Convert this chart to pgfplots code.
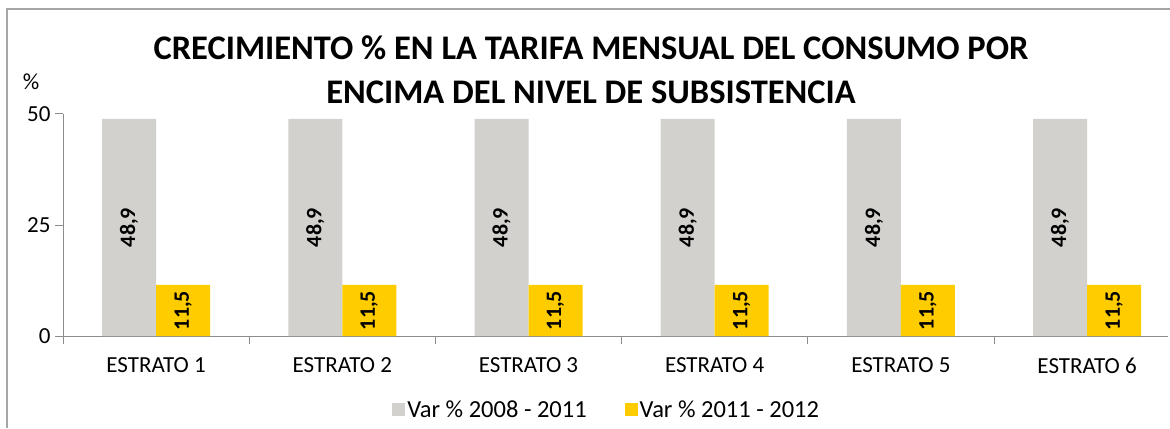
\documentclass[border=0pt]{standalone}
\usepackage{pgfplots}
\pgfplotsset{compat=1.18}
\usepackage{fontspec}
\setmainfont{Carlito}
\definecolor{barGray}{RGB}{210,209,205}
\definecolor{barYellow}{RGB}{255,204,0}
\definecolor{axGray}{RGB}{140,140,140}
\definecolor{frameGray}{RGB}{165,165,165}
\pgfplotstableread{
x y
0 48.9
1 48.9
2 48.9
3 48.9
4 48.9
5 48.9
}\gray
\pgfplotstableread{
x y
0 11.5
1 11.5
2 11.5
3 11.5
4 11.5
5 11.5
}\yellow
\begin{document}
\begin{tikzpicture}[x=1bp,y=1bp]
\path[use as bounding box] (0,0) rectangle (1170,428);
\draw[frameGray, line width=1.5bp] (7,0) -- (7,419) -- (1170,419);
\node[font=\fontsize{34.5bp}{44bp}\selectfont\bfseries, align=center] at (591,358) {CRECIMIENTO \% EN LA TARIFA MENSUAL DEL CONSUMO POR\\ENCIMA DEL NIVEL DE SUBSISTENCIA};
\node[font=\fontsize{23bp}{24bp}\selectfont] at (31,346) {\%};
\begin{axis}[
  at={(63bp,92bp)}, anchor=south west,
  x=186.2bp, y=4.44bp,
  xmin=-0.5, xmax=5.435, ymin=0, ymax=50,
  axis x line=bottom, axis y line=left,
  axis line style={-, draw=axGray, line width=1bp},
  ybar=0pt, bar width=54bp,
  ytick={0,25,50},
  xtick={0,1,2,3,4,5},
  xticklabels={ESTRATO 1,ESTRATO 2,ESTRATO 3,ESTRATO 4,ESTRATO 5,ESTRATO 6},
  minor xtick={-0.5,0.5,1.5,2.5,3.5,4.5},
  major x tick style={draw=none},
  tick style={draw=axGray, line width=1bp},
  tick align=outside,
  major tick length=8bp, minor tick length=8bp,
  /pgf/number format/assume math mode=true,
  yticklabel style={font=\fontsize{23bp}{24bp}\selectfont, xshift=-1bp},
  xticklabel style={font=\fontsize{23bp}{24bp}\selectfont, yshift=-10bp},
  nodes near coords={\pgfmathprintnumber[use comma,fixed,precision=1,fixed zerofill]{\pgfplotspointmeta}},
  visualization depends on=y \as \rawy,
  every node near coord/.append style={font=\fontsize{22bp}{24bp}\selectfont\bfseries, color=black, anchor=center, shift={(axis direction cs:0,-\rawy/2)}, rotate=90},
  legend style={draw=none, at={(axis description cs:0.492,-0.333)}, anchor=center, font=\fontsize{24.5bp}{26bp}\selectfont, legend columns=2, /tikz/every even column/.append style={column sep=36bp}},
  legend image code/.code={\fill[#1] (0bp,-6.5bp) rectangle (13bp,6.5bp);},
]
\addplot[fill=barGray, draw=none] table[x=x,y=y] {\gray};
\addplot[fill=barYellow, draw=none] table[x=x,y=y] {\yellow};
\legend{Var \% 2008 - 2011, Var \% 2011 - 2012}
\end{axis}
\end{tikzpicture}
\end{document}
